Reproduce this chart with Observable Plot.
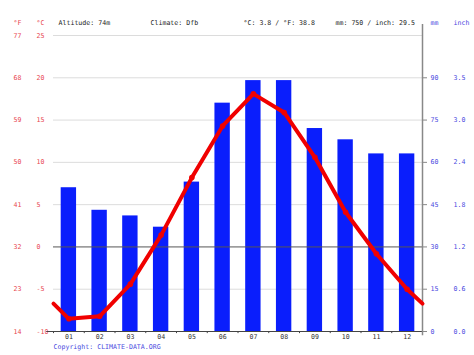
<!DOCTYPE html>
<html>
<head>
<meta charset="utf-8">
<script src="https://cdn.jsdelivr.net/npm/d3@7"></script>
<script src="https://cdn.jsdelivr.net/npm/@observablehq/plot@0.6"></script>
<style>
  html, body { margin: 0; padding: 0; background: #fff; }
  #chart { width: 474px; height: 355px; }
</style>
</head>
<body>
<div id="chart"></div>
<script>
// ---- data ----
const months = ["01","02","03","04","05","06","07","08","09","10","11","12"];
const precipMm = [51, 43, 41, 37, 53, 81, 89, 89, 72, 68, 63, 63];
const tempC = [-8.5, -8.2, -4.4, 1.4, 8.2, 14.3, 18.1, 15.9, 10.6, 4.1, -0.8, -5.0];
const edgeTempC = -6.7; // value of the line at both plot edges
const cTicks = [-10, -5, 0, 5, 10, 15, 20, 25];
const fLabels = ["14", "23", "32", "41", "50", "59", "68", "77"];
const mmLabels = ["0", "15", "30", "45", "60", "75", "90"];
const inchLabels = ["0.0", "0.6", "1.2", "1.8", "2.4", "3.0", "3.5"];
const headerTexts = ["°F", "°C", "Altitude: 74m", "Climate: Dfb", "°C: 3.8 / °F: 38.8", "mm: 750 / inch: 29.5", "mm", "inch"];

// ---- derived tables ----
const mmToC = mm => mm / 3 - 10; // right axis aligned: 0 mm = -10 °C, 30 mm = 0 °C
const bars = months.map((m, i) => ({i: i + 1, m, mm: precipMm[i]}));
const linePts = [{i: 0.5, t: edgeTempC}]
  .concat(tempC.map((t, i) => ({i: i + 1, t})))
  .concat([{i: 12.5, t: edgeTempC}]);
const rightTicks = mmLabels.map((_, k) => cTicks[k]);
const bounds = d3.range(0, 13).map(k => k + 0.5);

const RED = "#e8474f";
const BLUE = "#4a4ae0";
const DARK = "#222";
const FONT = "DejaVu Sans Mono, monospace";
const ML = 53;

const headerX = [13, 36, 58, 150, 243, 335, 430, 453];
const headerFill = [RED, RED, DARK, DARK, DARK, DARK, BLUE, BLUE];
const headerMarks = headerTexts.map((t, k) =>
  Plot.text([t], {frameAnchor: "top-left", dx: headerX[k] - ML, dy: -15.5, text: d => d,
    fill: headerFill[k], textAnchor: "start", fontFamily: FONT}));

const plot = Plot.plot({
  width: 474,
  height: 355,
  marginLeft: ML,
  marginRight: 52,
  marginTop: 35,
  marginBottom: 24,
  style: {fontFamily: FONT, fontSize: "6.6px", background: "#fff", overflow: "visible"},
  x: {type: "linear", domain: [0.5, 12.5], axis: null},
  y: {type: "linear", domain: [-10, 25], axis: null},
  marks: [
    // light grid
    Plot.ruleY(cTicks.filter(d => d !== 0 && d !== -10), {stroke: "#dcdcdc", strokeWidth: 1}),
    // bars
    Plot.rect(bars, {
      x1: d => d.i - 0.25, x2: d => d.i + 0.25,
      y1: -10, y2: d => mmToC(d.mm),
      fill: "#0a1efc"
    }),
    // zero line on top of bars
    Plot.ruleY([0], {stroke: "#555", strokeWidth: 1}),
    // bottom axis line
    Plot.ruleY([-10], {x1: 0.35, x2: 12.5, stroke: "#444", strokeWidth: 1}),
    // month boundary ticks
    Plot.ruleX(bounds, {y1: -10, y2: -10.25, stroke: "#444", strokeWidth: 1}),
    // right axis vertical line
    Plot.ruleX([12.5], {y1: -10.5, y2: 26.3, stroke: "#888", strokeWidth: 1.5}),
    // right axis tick marks
    Plot.axisY(rightTicks, {anchor: "right", tickSize: 4, stroke: "#888", text: null, label: null}),
    // right axis mm labels
    Plot.axisY(rightTicks, {anchor: "right", tickSize: 0, tickPadding: 8, textAnchor: "start", label: null,
      tickFormat: (d, k) => mmLabels[k], fill: BLUE, fontFamily: FONT}),
    // right axis inch labels
    Plot.axisY(rightTicks, {anchor: "right", tickSize: 0, tickPadding: 31, textAnchor: "start", label: null,
      tickFormat: (d, k) => inchLabels[k], fill: BLUE, fontFamily: FONT}),
    // left °C labels
    Plot.axisY(cTicks, {anchor: "left", tickSize: 0, tickPadding: 17, textAnchor: "start", label: null,
      fill: RED, fontFamily: FONT, tickFormat: d => String(d)}),
    // left °F labels
    Plot.axisY(cTicks, {anchor: "left", tickSize: 0, tickPadding: 40, textAnchor: "start", label: null,
      fill: RED, fontFamily: FONT, tickFormat: (d, k) => fLabels[k]}),
    // month labels
    Plot.axisX(bars.map(d => d.i), {anchor: "bottom", tickSize: 0, tickPadding: 3, label: null,
      tickFormat: (d, k) => months[k], fill: "#333", fontFamily: FONT}),
    // temperature line
    Plot.line(linePts, {x: "i", y: "t", stroke: "#f00000", strokeWidth: 4, strokeLinejoin: "round", strokeLinecap: "round"}),
    Plot.dot(tempC.map((t, i) => ({i: i + 1, t})), {x: "i", y: "t", r: 2.8, fill: "#f00000"}),
    // left -10 tick
    Plot.ruleY([-10], {x1: 0.28, x2: 0.5, stroke: "#444", strokeWidth: 1}),
    ...headerMarks,
    // copyright
    Plot.text(["Copyright: CLIMATE-DATA.ORG"], {frameAnchor: "bottom-left", dx: 0, dy: 17.5, text: d => d,
      fill: BLUE, textAnchor: "start", fontFamily: FONT})
  ]
});
document.getElementById("chart").appendChild(plot);
</script>
</body>
</html>
